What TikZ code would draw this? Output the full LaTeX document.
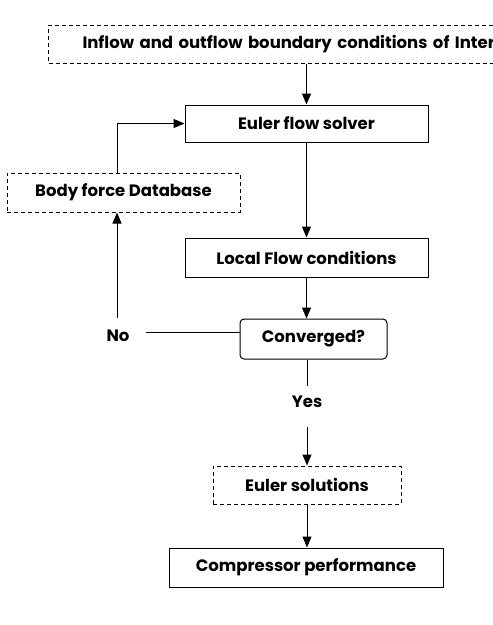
\documentclass[tikz,border=0pt]{standalone}
\usepackage{fontspec}
\setmainfont{Poppins}
\usetikzlibrary{arrows.meta}
\begin{document}
\begin{tikzpicture}[x=1pt,y=-1pt,
  font=\fontsize{16.5}{19}\selectfont\bfseries,
  box/.style={draw,line width=1pt,inner sep=0pt,minimum height=38pt},
  dbox/.style={box,dash pattern=on 4pt off 3pt},
  arr/.style={line width=1pt,-{Triangle[length=11pt,width=9pt]}},
  ln/.style={line width=1pt}]
\useasboundingbox (0,0) rectangle (493,625);
\clip (0,0) rectangle (493,625);
\node[dbox,minimum width=560pt,text width=492pt,align=left,inner xsep=34pt,anchor=west] (inflow) at (48,44) {Inflow and outflow boundary conditions of Inter};
\node[box,minimum width=243pt,minimum height=37pt] (euler) at (306.5,123.5) {Euler flow solver};
\node[dbox,minimum width=233pt,minimum height=39pt] (body) at (123.5,192.5) {Body force Database};
\node[box,minimum width=243pt,minimum height=39pt] (local) at (306.5,257.5) {Local Flow conditions};
\node[box,rounded corners=4pt,minimum width=147pt,minimum height=40pt] (conv) at (313.5,339) {Converged?};
\node[inner sep=0pt] (no) at (118,336) {No};
\node[inner sep=0pt,minimum height=32pt] (yes) at (307,402) {Yes};
\node[dbox,minimum width=188pt,minimum height=38pt] (sol) at (307,485) {Euler solutions};
\node[box,minimum width=274pt,minimum height=39pt] (comp) at (306,567.5) {Compressor performance};
\coordinate (nol) at (146,332);
\coordinate (nou) at (117,318);
\draw[arr] (euler.north |- inflow.south) -- (euler.north);
\draw[arr] (euler.south) -- (local.north);
\draw[arr] (euler.south |- local.south) -- (euler.south |- conv.north);
\draw[ln] (conv.west |- nol) -- (nol);
\draw[arr] (nou) -- (nou |- body.south);
\draw[arr] (nou |- body.north) |- (euler.west);
\draw[ln] (conv.south -| yes.north) -- (yes.north);
\draw[arr] ([yshift=-9pt]yes.south) -- (sol.north);
\draw[arr] (sol.south) -- (sol.south |- comp.north);
\end{tikzpicture}
\end{document}
